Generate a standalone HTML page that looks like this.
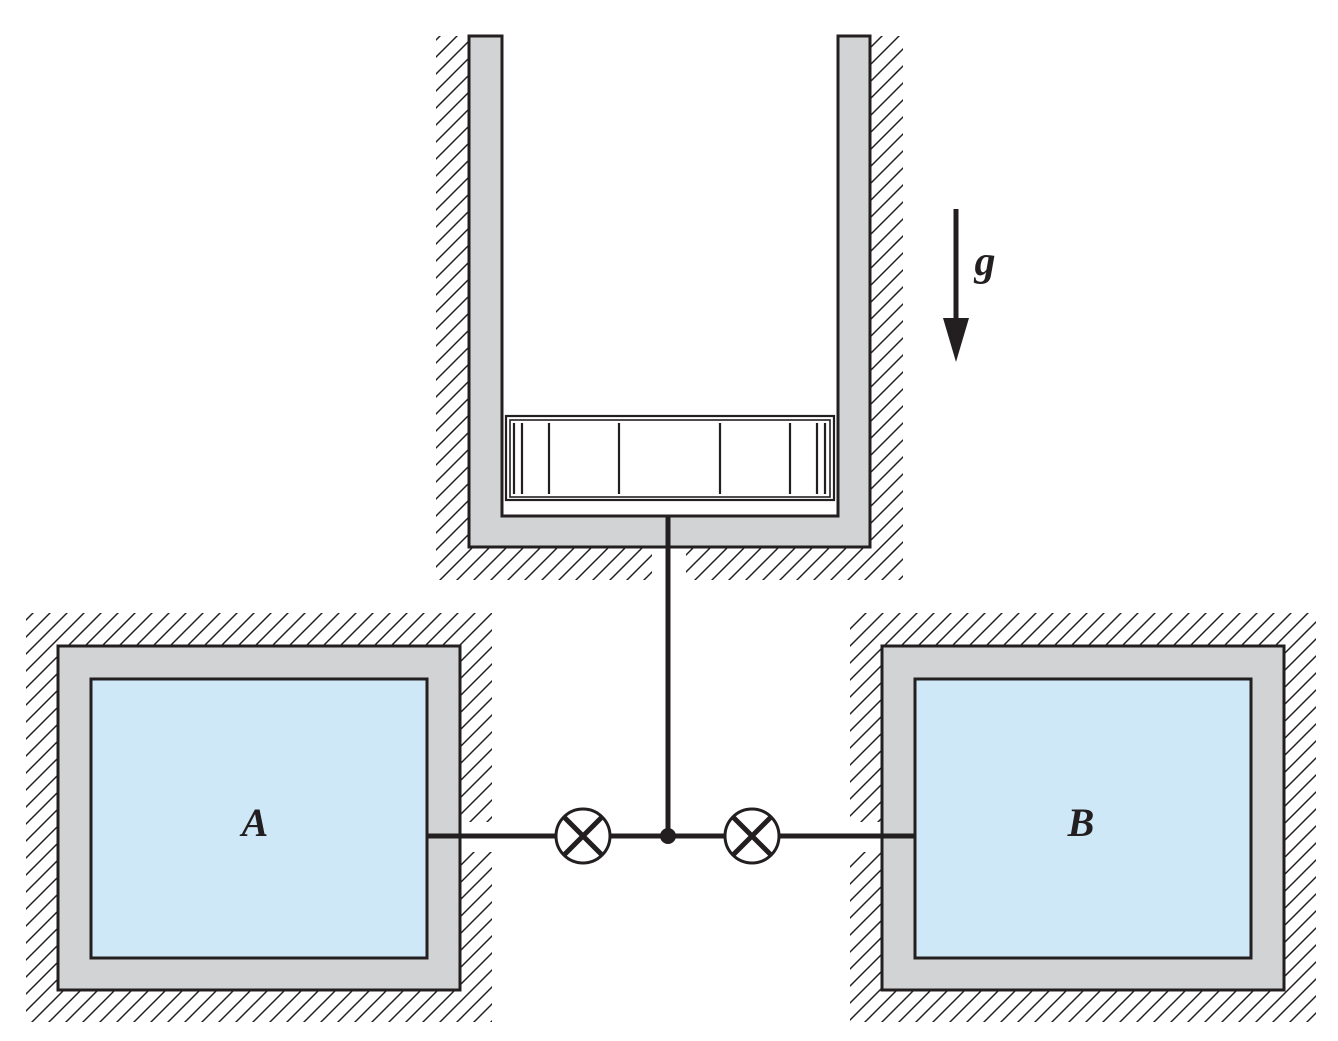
<!DOCTYPE html>
<html><head><style>html,body{margin:0;padding:0;background:#fff}</style></head><body>
<svg width="1338" height="1036" viewBox="0 0 1338 1036" xmlns="http://www.w3.org/2000/svg">
<defs>
<pattern id="h" patternUnits="userSpaceOnUse" width="17" height="17">
<path d="M-2,19 L19,-2 M-2,2 L2,-2 M15,19 L19,15" stroke="#231f20" stroke-width="1.5"/>
</pattern>
</defs>
<rect x="436" y="36" width="467" height="544" fill="url(#h)"/>
<rect x="26" y="613" width="466" height="409" fill="url(#h)"/>
<rect x="850" y="613" width="466" height="409" fill="url(#h)"/>
<rect x="652" y="547" width="34" height="35" fill="#fff"/>
<rect x="460" y="822" width="34" height="30" fill="#fff"/>
<rect x="848" y="822" width="34" height="30" fill="#fff"/>
<!-- cylinder -->
<rect x="500" y="30" width="340" height="488" fill="#fff"/>
<path d="M469,36 H502 V516 H838 V36 H870 V547 H469 Z" fill="#d1d3d4" stroke="#231f20" stroke-width="3"/>
<!-- piston -->
<rect x="506" y="416" width="328" height="84" fill="#fff" stroke="#231f20" stroke-width="2.2"/>
<rect x="510" y="420" width="320" height="77" fill="none" stroke="#231f20" stroke-width="1.6"/>
<g stroke="#231f20" stroke-width="2.2">
<line x1="514" y1="423" x2="514" y2="494"/><line x1="522" y1="423" x2="522" y2="494"/>
<line x1="549" y1="423" x2="549" y2="494"/><line x1="619" y1="423" x2="619" y2="494"/>
<line x1="720" y1="423" x2="720" y2="494"/><line x1="790" y1="423" x2="790" y2="494"/>
<line x1="817" y1="423" x2="817" y2="494"/><line x1="825" y1="423" x2="825" y2="494"/>
</g>
<!-- boxes -->
<rect x="58" y="646" width="402" height="344" fill="#d1d3d4" stroke="#231f20" stroke-width="3"/>
<rect x="91" y="679" width="336" height="279" fill="#cfe8f8" stroke="#231f20" stroke-width="3"/>
<rect x="882" y="646" width="402" height="344" fill="#d1d3d4" stroke="#231f20" stroke-width="3"/>
<rect x="915" y="679" width="336" height="279" fill="#cfe8f8" stroke="#231f20" stroke-width="3"/>
<g stroke="#231f20" stroke-width="5" fill="none">
<line x1="668" y1="516" x2="668" y2="836"/>
<line x1="427" y1="836" x2="915" y2="836"/>
</g>
<circle cx="668" cy="836" r="8" fill="#231f20"/>
<g stroke="#231f20" fill="#fff">
<circle cx="583" cy="836" r="27" stroke-width="3"/>
<circle cx="752" cy="836" r="27" stroke-width="3"/>
<path d="M564,817 L602,855 M602,817 L564,855 M733,817 L771,855 M771,817 L733,855" stroke-width="5"/>
</g>
<line x1="956" y1="209" x2="956" y2="322" stroke="#231f20" stroke-width="5"/>
<polygon points="943,318 969,318 956,362" fill="#231f20"/>
<g font-family="Liberation Serif, serif" font-style="italic" font-weight="bold" fill="#231f20">
<text x="985" y="275" font-size="42" text-anchor="middle">g</text>
<text x="255" y="836" font-size="40" text-anchor="middle">A</text>
<text x="1081" y="836" font-size="40" text-anchor="middle">B</text>
</g>
</svg>
</body></html>
